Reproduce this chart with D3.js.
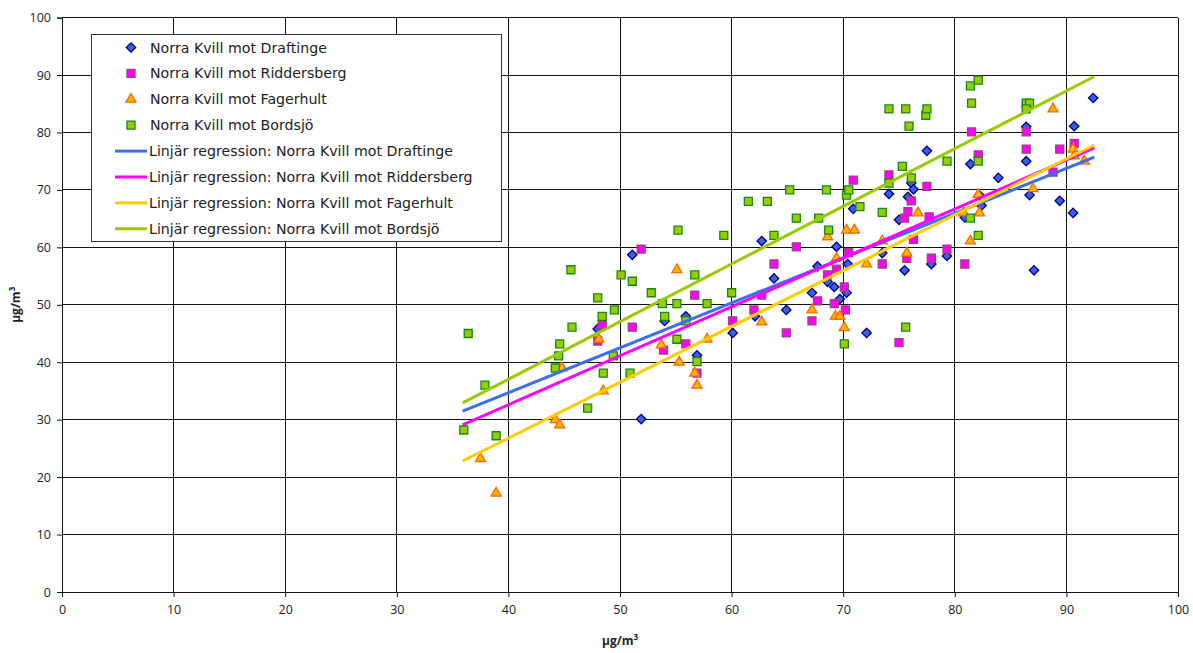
<!DOCTYPE html>
<html>
<head>
<meta charset="utf-8">
<script src="https://cdn.jsdelivr.net/npm/d3@7"></script>
<style>
  body { margin: 0; background: #fff; }
  svg text { font-family: "Open Sans", sans-serif; fill: #222; }
</style>
</head>
<body>
<svg id="chart" width="1193" height="653"></svg>
<script>
// Scatter of Norra Kvill against four other stations, with linear fits.

const SERIES_NAMES = [
  'Norra Kvill mot Draftinge',
  'Norra Kvill mot Riddersberg',
  'Norra Kvill mot Fagerhult',
  'Norra Kvill mot Bordsjö',
];

// [x, y] pairs
const draftinge = [
  [48.0, 45.8], [51.1, 58.7], [51.9, 30.1], [54.0, 47.2], [55.9, 48.0], [56.9, 41.2],
  [60.1, 45.1], [62.1, 48.0], [62.7, 61.1], [63.8, 54.6], [64.9, 49.1], [67.2, 52.1],
  [67.7, 56.7], [68.6, 54.0], [69.2, 53.1], [69.4, 60.1], [69.7, 51.0], [70.3, 52.1],
  [70.4, 57.1], [70.9, 66.7], [72.1, 45.1], [73.5, 59.0], [74.1, 69.3], [75.0, 64.8],
  [75.5, 56.0], [75.8, 68.8], [76.1, 71.2], [76.3, 70.1], [77.5, 76.8], [77.9, 57.1],
  [79.3, 58.5], [80.9, 65.2], [81.4, 74.5], [82.2, 69.1], [82.4, 67.3], [83.9, 72.1],
  [86.4, 81.0], [86.4, 75.0], [86.7, 69.1], [87.1, 56.0], [89.4, 68.1], [90.6, 66.0],
  [90.7, 81.1], [92.4, 86.0],
];

const riddersberg = [
  [48.0, 43.7], [48.4, 46.5], [51.1, 46.1], [51.9, 59.7], [53.9, 42.1], [55.9, 43.2],
  [56.7, 51.7], [56.9, 38.1], [60.1, 47.2], [62.0, 49.1], [62.7, 51.7], [63.8, 57.1],
  [64.9, 45.1], [65.8, 60.1], [67.2, 47.2], [67.7, 50.7], [68.6, 55.2], [69.2, 50.2],
  [69.4, 56.2], [70.1, 53.1], [70.2, 49.1], [70.5, 59.1], [70.9, 71.7], [73.5, 57.1],
  [74.1, 72.6], [75.0, 43.4], [75.5, 65.1], [75.7, 58.1], [75.8, 66.2], [76.1, 68.1],
  [76.3, 61.4], [77.5, 70.6], [77.7, 65.3], [77.9, 58.1], [79.3, 59.7], [80.9, 57.1],
  [81.5, 80.1], [82.1, 76.1], [86.4, 80.1], [86.4, 77.1], [88.8, 73.1], [89.4, 77.1],
  [90.7, 78.1],
];

const fagerhult = [
  [37.5, 23.2], [38.9, 17.2], [44.2, 30.0], [44.6, 29.1], [44.8, 39.0], [48.1, 44.0],
  [48.5, 35.0], [53.7, 43.0], [55.1, 56.1], [55.3, 40.0], [56.7, 38.1], [56.9, 36.0],
  [57.8, 44.0], [62.7, 47.0], [67.2, 49.1], [68.6, 61.8], [69.3, 48.0], [69.4, 58.1],
  [69.7, 48.0], [70.1, 46.0], [70.3, 63.0], [71.0, 63.0], [72.1, 57.1], [73.5, 61.1],
  [75.7, 59.0], [76.7, 66.0], [80.8, 66.0], [81.4, 61.1], [82.1, 69.2], [82.2, 66.0],
  [87.0, 70.2], [88.8, 84.1], [90.6, 77.1], [90.7, 75.9], [91.6, 75.0],
];

const bordsjo = [
  [36.0, 28.2], [36.4, 45.0], [37.9, 36.0], [38.9, 27.2], [44.2, 39.0], [44.5, 41.1],
  [44.6, 43.2], [45.6, 56.1], [45.7, 46.1], [47.1, 32.0], [48.0, 51.2], [48.4, 48.0],
  [48.5, 38.1], [49.4, 41.1], [49.5, 49.1], [50.1, 55.2], [50.9, 38.1], [51.1, 54.1],
  [52.8, 52.1], [53.8, 50.2], [54.0, 48.0], [55.1, 50.2], [55.1, 44.0], [55.2, 63.0],
  [55.9, 47.2], [56.7, 55.2], [56.9, 40.1], [57.8, 50.2], [59.3, 62.1], [60.0, 52.1],
  [61.5, 68.0], [63.2, 68.0], [63.8, 62.1], [65.2, 70.0], [65.8, 65.1], [67.8, 65.1],
  [68.5, 70.0], [68.7, 63.0], [70.1, 43.2], [70.3, 69.1], [70.5, 70.0], [71.5, 67.1],
  [73.5, 66.1], [74.1, 84.1], [74.1, 71.2], [75.3, 74.1], [75.6, 84.1], [75.6, 46.1],
  [75.9, 81.1], [76.1, 72.1], [77.4, 83.0], [77.5, 84.1], [79.3, 75.0], [81.4, 88.1],
  [81.4, 65.1], [81.5, 85.1], [82.1, 89.1], [82.1, 75.0], [82.1, 62.1], [86.4, 85.1],
  [86.7, 85.1], [86.4, 84.1],
];

// linear fits as drawn: [slope, intercept], spanning the x range below
const FIT_SLOPES = [0.781, 0.852, 0.972, 1.004];
const FIT_INTERCEPTS = [3.46, -1.48, -12.09, -3.13];
const FIT_X_RANGE = [35.9, 92.5];

const X_TICKS = d3.range(0, 101, 10);
const Y_TICKS = d3.range(0, 101, 10);

const seriesData = [draftinge, riddersberg, fagerhult, bordsjo];

const STYLE = [
  { shape: 'diamond', fill: '#3a5ee8', stroke: '#000080', line: '#3d6df2' },
  { shape: 'square', fill: '#ff00ff', stroke: '#a0407a', line: '#ff00ff' },
  { shape: 'triangle', fill: '#ffb400', stroke: '#ff6600', line: '#ffcc00' },
  { shape: 'square', fill: '#99cc00', stroke: '#138a13', line: '#99cc00' },
];

const M = { left: 62, top: 17.6, right: 1178, bottom: 592 };

const svg = d3.select('#chart');
const x = d3.scaleLinear().domain([0, 100]).range([M.left, M.right]);
const y = d3.scaleLinear().domain([0, 100]).range([M.bottom, M.top]);

// grid
const grid = svg.append('g').attr('shape-rendering', 'crispEdges');
grid.selectAll('.vg').data(X_TICKS).join('line')
  .attr('x1', (d) => x(d)).attr('x2', (d) => x(d))
  .attr('y1', M.top).attr('y2', M.bottom)
  .attr('stroke', '#111').attr('stroke-width', 1);
grid.selectAll('.hg').data(Y_TICKS).join('line')
  .attr('y1', (d) => y(d)).attr('y2', (d) => y(d))
  .attr('x1', M.left).attr('x2', M.right)
  .attr('stroke', '#111').attr('stroke-width', 1);

// axes
const xAxis = svg.append('g')
  .attr('transform', `translate(0,${M.bottom})`)
  .call(d3.axisBottom(x).tickValues(X_TICKS).tickSize(5).tickPadding(8));
const yAxis = svg.append('g')
  .attr('transform', `translate(${M.left},0)`)
  .call(d3.axisLeft(y).tickValues(Y_TICKS).tickSize(5).tickPadding(6));
[xAxis, yAxis].forEach((g) => {
  g.select('.domain').attr('stroke', '#111');
  g.selectAll('.tick line').attr('stroke', '#111');
  g.selectAll('text').style('font-size', '12.5px').attr('fill', '#333');
});

// axis titles
svg.append('text')
  .attr('x', x(50)).attr('y', 645)
  .attr('text-anchor', 'middle')
  .style('font-size', '12px').style('font-weight', 'bold')
  .html('µg/m<tspan dy="-5" style="font-size:8px">3</tspan>');
svg.append('text')
  .attr('transform', `translate(20,${y(50)}) rotate(-90)`)
  .attr('text-anchor', 'middle')
  .style('font-size', '12px').style('font-weight', 'bold')
  .html('µg/m<tspan dy="-5" style="font-size:8px">3</tspan>');

function symbolPath(shape) {
  if (shape === 'triangle') return d3.symbol(d3.symbolTriangle, 44)();
  if (shape === 'diamond') return d3.symbol(d3.symbolSquare, 44)();
  return d3.symbol(d3.symbolSquare, 64)();
}

// markers
seriesData.forEach((data, i) => {
  const st = STYLE[i];
  svg.append('g').selectAll('path').data(data).join('path')
    .attr('d', symbolPath(st.shape))
    .attr('transform', (d) => `translate(${x(d[0])},${y(d[1])})${st.shape === 'diamond' ? ' rotate(45)' : ''}`)
    .attr('fill', st.fill).attr('stroke', st.stroke).attr('stroke-width', 1.3);
});

// regression lines
const line = d3.line().x((d) => x(d[0])).y((d) => y(d[1]));
FIT_SLOPES.forEach((k, i) => {
  const pts = FIT_X_RANGE.map((v) => [v, k * v + FIT_INTERCEPTS[i]]);
  svg.append('path').attr('d', line(pts))
    .attr('fill', 'none').attr('stroke', STYLE[i].line).attr('stroke-width', 3);
});

// legend
const lg = svg.append('g');
lg.append('rect')
  .attr('x', 91.5).attr('y', 34.5).attr('width', 410).attr('height', 207)
  .attr('fill', '#fff').attr('stroke', '#333').attr('stroke-width', 1);
const legendRows = [
  ...SERIES_NAMES.map((n, i) => ({ text: n, i, kind: 'marker' })),
  ...SERIES_NAMES.map((n, i) => ({ text: 'Linjär regression: ' + n, i, kind: 'line' })),
];
legendRows.forEach((r, k) => {
  const cy = 47.5 + k * 25.9;
  const st = STYLE[r.i];
  if (r.kind === 'marker') {
    lg.append('path')
      .attr('d', symbolPath(st.shape))
      .attr('transform', `translate(131,${cy})${st.shape === 'diamond' ? ' rotate(45)' : ''}`)
      .attr('fill', st.fill).attr('stroke', st.stroke).attr('stroke-width', 1.3);
  } else {
    lg.append('line')
      .attr('x1', 115).attr('x2', 147).attr('y1', cy).attr('y2', cy)
      .attr('stroke', st.line).attr('stroke-width', 3);
  }
  lg.append('text')
    .attr('x', r.kind === 'marker' ? 150 : 149).attr('y', cy)
    .attr('dominant-baseline', 'central')
    .style('font-family', '"DejaVu Sans", sans-serif')
    .style('font-size', '14.2px').attr('fill', '#222')
    .text(r.text);
});
</script>
</body>
</html>
